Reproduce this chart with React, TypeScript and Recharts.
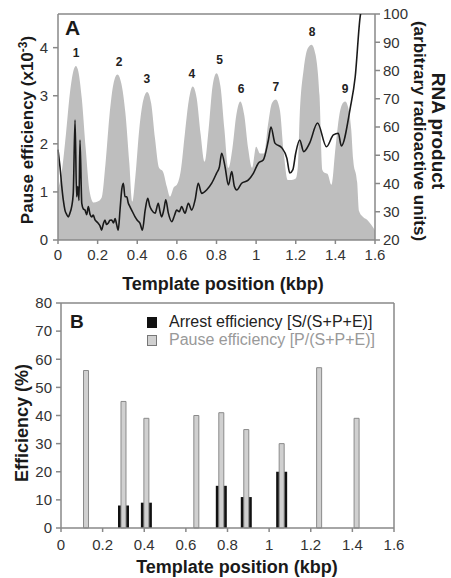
import {
  Area,
  Bar,
  ComposedChart,
  Label,
  Line,
  ReferenceLine,
  Scatter,
  XAxis,
  YAxis,
} from 'recharts'

// ---- shared ticks ----
const kbpTicks = [0, 0.2, 0.4, 0.6, 0.8, 1, 1.2, 1.4, 1.6]
const pauseTicks = [0, 1, 2, 3, 4]
const rnaTicks = [20, 30, 40, 50, 60, 70, 80, 90, 100]
const effTicks = [0, 10, 20, 30, 40, 50, 60, 70, 80]

// ---- panel A: pause efficiency profile (gray area, x10^-3) ----
const profilePos = [
  0, 0.02, 0.04, 0.06, 0.08, 0.09, 0.1, 0.12, 0.14, 0.16, 0.18, 0.2, 0.22, 0.24, 0.26, 0.28,
  0.3, 0.32, 0.34, 0.36, 0.375, 0.39, 0.41, 0.43, 0.45, 0.47, 0.49, 0.51, 0.53, 0.55, 0.565,
  0.585, 0.6, 0.62, 0.64, 0.66, 0.68, 0.7, 0.72, 0.74, 0.76, 0.78, 0.8, 0.82, 0.84, 0.86, 0.88,
  0.9, 0.92, 0.94, 0.96, 0.98, 1.0, 1.02, 1.04, 1.06, 1.08, 1.1, 1.12, 1.14, 1.16, 1.18, 1.2,
  1.21, 1.22, 1.24, 1.26, 1.28, 1.3, 1.32, 1.335, 1.345, 1.36, 1.38, 1.4, 1.42, 1.44, 1.45,
  1.46, 1.48, 1.49, 1.51, 1.52, 1.54, 1.56, 1.58, 1.6,
]
const pauseProfile = [
  1.05, 1.45, 2.2, 3.05, 3.55, 3.62, 3.55, 2.95, 1.9, 1.0, 0.78, 0.8, 0.88, 1.6, 2.6, 3.25,
  3.44, 3.25, 2.65, 1.6, 0.8, 1.3, 2.3, 2.9, 3.08, 2.85, 2.1, 1.5, 1.42, 1.1, 0.9,
  1.1, 1.15, 1.45, 2.2, 2.9, 3.19, 2.95, 2.2, 1.63, 2.3, 3.2, 3.47, 3.2, 2.3, 1.5, 1.9,
  2.6, 2.88, 2.6, 1.9, 1.5, 1.94, 1.8, 1.8, 2.4, 2.85, 2.92, 2.7, 1.8, 1.25, 1.25, 1.28,
  1.5, 2.6, 3.55, 3.98, 4.06, 3.85, 3.0, 1.45, 1.4, 1.38, 1.15, 1.9, 2.6, 2.86, 2.88,
  2.82, 2.3, 1.67, 1.2, 0.6, 0.48, 0.42, 0.32, 0.2,
]

// ---- panel A: RNA product trace (black line, arbitrary units) ----
const rnaPos = [
  0, 0.005, 0.01, 0.019, 0.027, 0.035, 0.044, 0.052, 0.06, 0.069, 0.077, 0.086, 0.094, 0.1,
  0.106, 0.111, 0.12, 0.128, 0.136, 0.145, 0.153, 0.162, 0.17, 0.178, 0.187, 0.195, 0.203,
  0.212, 0.22, 0.228, 0.237, 0.245, 0.254, 0.262, 0.271, 0.28, 0.288, 0.296, 0.304, 0.313,
  0.322, 0.33, 0.338, 0.347, 0.355, 0.363, 0.376, 0.389, 0.4, 0.414, 0.426, 0.44, 0.453,
  0.463, 0.473, 0.49, 0.506, 0.515, 0.523, 0.535, 0.544, 0.557, 0.574, 0.587, 0.599, 0.612,
  0.624, 0.641, 0.658, 0.675, 0.692, 0.708, 0.725, 0.75, 0.776, 0.8, 0.815, 0.826, 0.843,
  0.86, 0.877, 0.89, 0.902, 0.927, 0.96, 0.986, 1.011, 1.036, 1.062, 1.075, 1.095, 1.13,
  1.155, 1.17, 1.185, 1.2, 1.22, 1.24, 1.27, 1.31, 1.355, 1.39, 1.415, 1.43, 1.475, 1.5,
  1.525, 1.54,
]
const rnaProduct = [
  52, 49, 46, 39, 34, 30.6, 29, 28.2, 29.5, 31.8, 36.5, 62.5, 35.3, 38.9,
  34, 55.4, 33, 31, 30.6, 29, 31.8, 29, 28.2, 28.8, 27.1, 26.5, 25.9,
  25, 23.5, 25.5, 27.1, 25.5, 26, 27, 27.1, 26, 27.6, 25.5, 23.5, 30.6,
  38, 40.1, 35.3, 35.3, 33, 31.8, 30, 28.2, 27, 25.9, 23.5, 30.6, 34.8,
  32, 30.6, 29.5, 33, 30, 28.2, 31, 34.2, 29.5, 26.5, 28.5, 30.6, 30,
  31.8, 29.5, 33, 30.6, 34.2, 40.1, 36.5, 37.7, 40.1, 43.6, 46, 50.7, 46,
  39.5, 44.2, 39, 37.7, 40.1, 41.2, 43.6, 47.2, 48.3, 55.4, 60, 54.3, 52.6,
  49, 43.7, 44.8, 50.8, 55.4, 51.3, 54.3, 61.4, 53, 57.2, 57.8, 53.3, 66.7, 77.7,
  99, 104,
]

// ---- panel A: numbered pause peaks ----
const peakNames = ['1', '2', '3', '4', '5', '6', '7', '8', '9']
const peakPos = [0.091, 0.308, 0.449, 0.676, 0.816, 0.924, 1.1, 1.282, 1.449]
const peakHeight = [3.62, 3.44, 3.08, 3.19, 3.47, 2.88, 2.92, 4.06, 2.88]

// ---- panel B: efficiencies (%) ----
const sitePos = [0.12, 0.3, 0.41, 0.65, 0.77, 0.89, 1.06, 1.24, 1.42]
const pauseEff = [56, 45, 39, 40, 41, 35, 30, 57, 39]
const arrestPos = [0.3, 0.41, 0.77, 0.89, 1.06]
const arrestEff = [8, 9, 15, 11, 20]

const profileData = profilePos.map((x, i) => ({ x, y: pauseProfile[i] }))
const rnaData = rnaPos.map((x, i) => ({ x, rna: rnaProduct[i] }))
const peakData = peakPos.map((x, i) => ({ x, y: peakHeight[i], name: peakNames[i] }))
const siteData = sitePos.map((x, i) => {
  const j = arrestPos.indexOf(x)
  return { x, pause: pauseEff[i], arrest: j >= 0 ? arrestEff[j] : null }
})

const FONT = '"Liberation Sans", Arial, sans-serif'
const AXIS = '#888'
const tick = { fontSize: 15, fill: '#333', fontFamily: FONT }
const title = { fontSize: 18, fontWeight: 700, fill: '#1a1a1a', fontFamily: FONT }

const PeakLabel = (p: any) => (
  <text
    x={p.cx}
    y={p.cy - 9}
    textAnchor="middle"
    style={{ fontSize: 12, fontWeight: 700, fill: '#222', fontFamily: FONT }}
  >
    {p.payload.name}
  </text>
)

function PanelA() {
  return (
    <ComposedChart width={451} height={300} data={profileData} margin={{ top: 14, right: 0, bottom: 20, left: 0 }}>
      <XAxis
        dataKey="x"
        type="number"
        domain={[0, 1.6]}
        ticks={kbpTicks}
        interval={0}
        height={40}
        tick={tick}
        tickSize={4}
        tickMargin={5}
        stroke={AXIS}
        strokeWidth={1.5}
      >
        <Label
          content={() => (
            <text x={223} y={290} textAnchor="middle" style={title}>
              Template position (kbp)
            </text>
          )}
        />
      </XAxis>
      <YAxis
        yAxisId="left"
        type="number"
        domain={[0, 4.7]}
        ticks={pauseTicks}
        width={58}
        tick={tick}
        tickSize={5}
        tickMargin={5}
        stroke={AXIS}
        strokeWidth={1.5}
      >
        <Label
          content={() => (
            <text transform="translate(33,130) rotate(-90)" textAnchor="middle" style={{ ...title, fontSize: 17 }}>
              Pause efficiency (x10
              <tspan dy={-6} style={{ fontSize: 12 }}>-3</tspan>
              <tspan dy={6}>)</tspan>
            </text>
          )}
        />
      </YAxis>
      <YAxis
        yAxisId="right"
        orientation="right"
        type="number"
        domain={[20, 100]}
        ticks={rnaTicks}
        allowDataOverflow
        width={76}
        tick={tick}
        tickSize={5}
        tickMargin={3}
        stroke={AXIS}
        strokeWidth={1.5}
      >
        <Label
          content={() => (
            <g>
              <text transform="translate(432,131) rotate(90)" textAnchor="middle" style={{ ...title, fontSize: 19 }}>
                RNA product
              </text>
              <text transform="translate(414,131) rotate(90)" textAnchor="middle" style={{ ...title, fontSize: 17 }}>
                (arbitrary radioactive units)
              </text>
            </g>
          )}
        />
      </YAxis>
      <ReferenceLine yAxisId="left" y={4.7} stroke={AXIS} strokeWidth={1.5} />
      <Area
        yAxisId="left"
        dataKey="y"
        type="monotone"
        fill="#bebebe"
        fillOpacity={1}
        stroke="none"
        isAnimationActive={false}
      />
      <Line
        yAxisId="right"
        data={rnaData}
        dataKey="rna"
        type="monotone"
        stroke="#1a1a1a"
        strokeWidth={1.6}
        dot={false}
        isAnimationActive={false}
      />
      <Scatter yAxisId="left" data={peakData} dataKey="y" shape={PeakLabel} isAnimationActive={false} />
    </ComposedChart>
  )
}

function PanelB() {
  return (
    <ComposedChart width={451} height={298} data={siteData} margin={{ top: 23, right: 57, bottom: 0, left: 0 }}>
      <XAxis
        dataKey="x"
        type="number"
        domain={[0, 1.6]}
        ticks={kbpTicks}
        interval={0}
        height={50}
        tick={tick}
        tickSize={4}
        tickMargin={7}
        stroke={AXIS}
        strokeWidth={1.5}
      >
        <Label
          content={() => (
            <text x={237} y={293} textAnchor="middle" style={title}>
              Template position (kbp)
            </text>
          )}
        />
      </XAxis>
      <XAxis xAxisId="arrest" dataKey="x" type="number" domain={[0, 1.6]} hide />
      <YAxis
        type="number"
        domain={[0, 80]}
        ticks={effTicks}
        width={61}
        tick={tick}
        tickSize={5}
        tickMargin={4}
        stroke={AXIS}
        strokeWidth={1.5}
      >
        <Label
          content={() => (
            <text transform="translate(28,143) rotate(-90)" textAnchor="middle" style={title}>
              Efficiency (%)
            </text>
          )}
        />
      </YAxis>
      <ReferenceLine y={80} stroke={AXIS} strokeWidth={1.5} />
      <ReferenceLine x={1.6} stroke={AXIS} strokeWidth={1.5} />
      <Bar xAxisId="arrest" dataKey="arrest" barSize={11} fill="#111" isAnimationActive={false} />
      <Bar dataKey="pause" barSize={5} fill="#d0d0d0" stroke="#8a8a8a" strokeWidth={1} isAnimationActive={false} />
    </ComposedChart>
  )
}

export default function App() {
  return (
    <div style={{ position: 'absolute', left: 0, top: 0, width: 451, height: 578, background: '#fff', fontFamily: FONT }}>
      <div style={{ position: 'absolute', left: 0, top: 280 }}>
        <PanelB />
      </div>
      <div style={{ position: 'absolute', left: 0, top: 0 }}>
        <PanelA />
      </div>
      <div style={{ position: 'absolute', left: 65, top: 17, fontSize: 21, fontWeight: 700, lineHeight: 1, color: '#1a1a1a' }}>A</div>
      <div style={{ position: 'absolute', left: 70, top: 312, fontSize: 19, fontWeight: 700, lineHeight: 1, color: '#1a1a1a' }}>B</div>
      <div style={{ position: 'absolute', left: 147, top: 313, fontSize: 16, lineHeight: '18px' }}>
        <div style={{ display: 'flex', alignItems: 'center', color: '#222' }}>
          <span style={{ width: 10, height: 11, background: '#111', marginRight: 12, display: 'inline-block' }} />
          Arrest efficiency [S/(S+P+E)]
        </div>
        <div style={{ display: 'flex', alignItems: 'center', color: '#999' }}>
          <span style={{ width: 8, height: 9, background: '#d0d0d0', border: '1px solid #777', marginRight: 12, display: 'inline-block' }} />
          Pause efficiency [P/(S+P+E)]
        </div>
      </div>
    </div>
  )
}
